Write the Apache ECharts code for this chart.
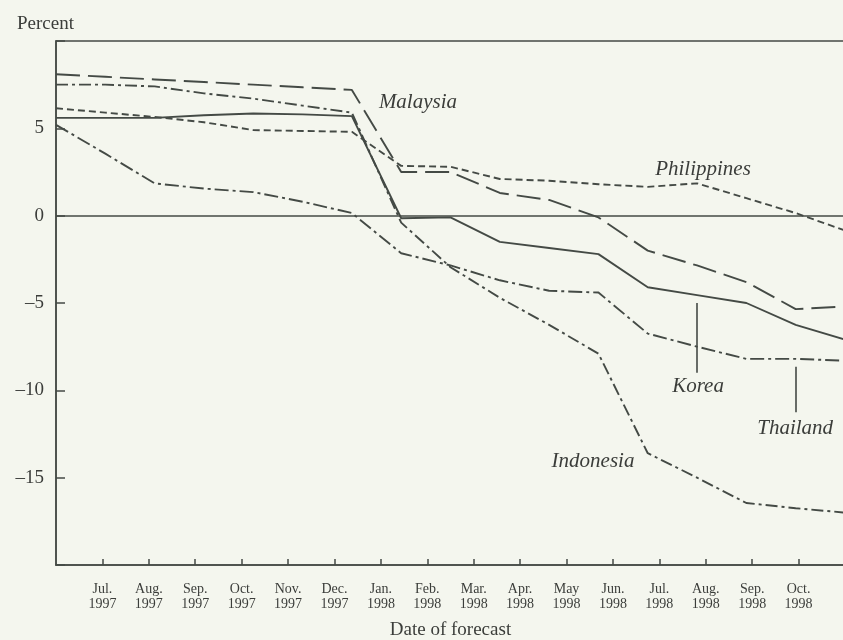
<!DOCTYPE html>
<html>
<head>
<meta charset="utf-8">
<script src="https://cdn.jsdelivr.net/npm/echarts@6/dist/echarts.min.js"></script>
<style>
  html, body { margin: 0; padding: 0; background: #f4f6ee; }
  #chart { width: 843px; height: 640px; }
</style>
</head>
<body>
<div id="chart"></div>
<script>
// axis ticks: Jun 1997 .. Nov 1998
const tickMonths = ['Jun.', 'Jul.', 'Aug.', 'Sep.', 'Oct.', 'Nov.', 'Dec.', 'Jan.', 'Feb.', 'Mar.', 'Apr.', 'May', 'Jun.', 'Jul.', 'Aug.', 'Sep.', 'Oct.', 'Nov.']
const tickYears = ['1997', '1997', '1997', '1997', '1997', '1997', '1997', '1998', '1998', '1998', '1998', '1998', '1998', '1998', '1998', '1998', '1998', '1998']

// forecast dates of the plotted points (spread over the full plot width in the original)
const forecastDates = ['Jun. 1997', 'Jul. 1997', 'Aug. 1997', 'Sep. 1997', 'Oct. 1997', 'Nov. 1997', 'Dec. 1997', 'Jan. 1998', 'Feb. 1998', 'Mar. 1998', 'Apr. 1998', 'May 1998', 'Jun. 1998', 'Jul. 1998', 'Aug. 1998', 'Sep. 1998', 'Oct. 1998']

// growth forecasts, percent
const malaysia = [8.1, 7.95, 7.8, 7.65, 7.5, 7.35, 7.2, 2.5, 2.5, 1.3, 0.9, -0.1, -2.0, -2.85, -3.8, -5.35, -5.2]
const korea = [5.6, 5.6, 5.6, 5.75, 5.85, 5.8, 5.7, -0.15, -0.1, -1.5, -1.85, -2.2, -4.1, -4.55, -5.0, -6.25, -7.1]
const indonesia = [7.5, 7.5, 7.4, 7.0, 6.7, 6.3, 5.9, -0.4, -2.95, -4.7, -6.25, -7.9, -13.6, -15.0, -16.45, -16.75, -17.0]
const thailand = [5.2, 3.55, 1.85, 1.55, 1.35, 0.8, 0.15, -2.15, -2.85, -3.7, -4.3, -4.4, -6.75, -7.5, -8.2, -8.2, -8.3]
const philippines = [6.15, 5.9, 5.65, 5.35, 4.9, 4.85, 4.8, 2.85, 2.8, 2.1, 2.0, 1.8, 1.65, 1.85, 1.0, 0.15, -0.85]

const ink = '#444a45'
const textColor = '#3b3d3a'
const serif = 'Liberation Serif'

const chart = echarts.init(document.getElementById('chart'))

function toPairs(arr) {
    return arr.map((v, i) => [i, v])
}

// italic country name placed in data coordinates
function nameLabel(text, coord) {
    return {
        symbol: 'circle',
        symbolSize: 0,
        silent: true,
        data: [{ coord: coord, value: text }],
        label: {
            show: true,
            position: 'inside',
            formatter: text,
            fontFamily: serif,
            fontStyle: 'italic',
            fontSize: 21,
            color: textColor
        }
    }
}

function pointer(from, to) {
    return {
        silent: true,
        symbol: 'none',
        label: { show: false },
        lineStyle: { color: ink, width: 1.6, type: 'solid' },
        data: [[{ coord: from }, { coord: to }]]
    }
}

function lineSeries(name, data, dash, extra) {
    return Object.assign({
        name: name,
        type: 'line',
        xAxisIndex: 1,
        data: toPairs(data),
        symbol: 'none',
        animation: false,
        lineStyle: { color: ink, width: 1.9, type: dash }
    }, extra || {})
}

const opt = {
    backgroundColor: '#f4f6ee',
    animation: false,
    title: {
        text: 'Percent',
        left: 12,
        top: 10,
        textStyle: { fontFamily: serif, fontWeight: 'normal', fontSize: 19, color: textColor }
    },
    grid: {
        left: 56,
        top: 41,
        width: 789,
        height: 524,
        outerBoundsMode: 'none',
        containLabel: false,
        show: true,
        borderColor: ink,
        borderWidth: 1.5,
        backgroundColor: 'transparent'
    },
    xAxis: [
        {
            type: 'category',
            data: tickMonths,
            boundaryGap: false,
            axisLine: { onZero: false, lineStyle: { color: ink, width: 1.5 } },
            axisTick: { inside: true, length: 6, lineStyle: { color: ink, width: 1.5 } },
            axisLabel: {
                interval: (idx) => idx > 0 && idx < tickMonths.length - 1,
                formatter: (val, idx) => val + '\n' + tickYears[idx],
                fontFamily: serif,
                fontSize: 14,
                lineHeight: 15,
                color: textColor,
                margin: 17
            },
            name: 'Date of forecast',
            nameLocation: 'middle',
            nameGap: 56,
            nameTextStyle: { fontFamily: serif, fontSize: 19, color: textColor },
            splitLine: { show: false }
        },
        {
            type: 'value',
            min: 0,
            max: forecastDates.length - 1,
            show: false,
            axisLine: { onZero: false },
            splitLine: { show: false }
        }
    ],
    yAxis: {
        type: 'value',
        min: -20,
        max: 10,
        interval: 5,
        axisLine: { show: true, onZero: false, lineStyle: { color: ink, width: 1.5 } },
        axisTick: { inside: true, length: 9, lineStyle: { color: ink, width: 1.5 } },
        splitLine: { show: false },
        axisLabel: {
            formatter: (v) => (v === 10 || v === -20) ? '' : String(v).replace('-', '\u2013'),
            fontFamily: serif,
            fontSize: 19,
            color: textColor,
            margin: 12
        }
    },
    series: [
        lineSeries('Malaysia', malaysia, [24, 8], {
            markPoint: nameLabel('Malaysia', [7.34, 6.5])
        }),
        lineSeries('Korea', korea, 'solid', {
            markPoint: nameLabel('Korea', [13.02, -9.8]),
            markLine: pointer([13, -5.0], [13, -9.0])
        }),
        lineSeries('Indonesia', indonesia, [12, 4, 3, 4], {
            markPoint: nameLabel('Indonesia', [10.89, -14.05])
        }),
        lineSeries('Thailand', thailand, [14, 4, 3, 4], {
            markPoint: nameLabel('Thailand', [14.99, -12.2]),
            markLine: pointer([15, -8.65], [15, -11.25])
        }),
        lineSeries('Philippines', philippines, [7, 4], {
            markPoint: nameLabel('Philippines', [13.12, 2.66])
        }),
        {
            // zero line
            type: 'line',
            xAxisIndex: 1,
            data: [],
            markLine: {
                silent: true,
                symbol: 'none',
                label: { show: false },
                lineStyle: { color: ink, width: 1.5, type: 'solid' },
                data: [{ yAxis: 0 }]
            }
        }
    ]
}
chart.setOption(opt)
</script>
</body>
</html>
